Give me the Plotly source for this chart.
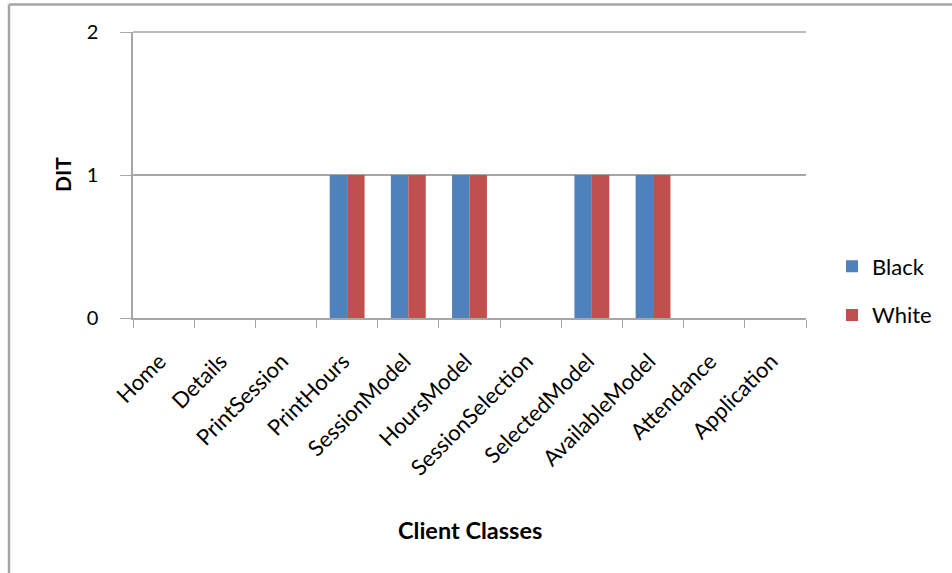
import plotly.graph_objects as go

categories = ["Home", "Details", "PrintSession", "PrintHours", "SessionModel", "HoursModel",
              "SessionSelection", "SelectedModel", "AvailableModel", "Attendance", "Application"]
black_vals = [0, 0, 0, 1, 1, 1, 0, 1, 1, 0, 0]
white_vals = [0, 0, 0, 1, 1, 1, 0, 1, 1, 0, 0]
y_ticks = [0, 1, 2]

W, H = 952, 573
L, R, T, B = 133, 806, 32, 318
pw, ph = R - L, B - T

def px_x(x):
    return (x - L) / pw

def px_y(y):
    return (B - y) / ph

FONT = "Lato"
grid = "#a6a6a6"

fig = go.Figure()
fig.add_trace(go.Bar(x=categories, y=black_vals, name="Black", marker_color="#4F81BD",
                     marker_line_width=0, legendgroup="a"))
fig.add_trace(go.Bar(x=categories, y=white_vals, name="White", marker_color="#C0504D",
                     marker_line_width=0, legendgroup="b"))

fig.update_layout(
    width=W, height=H, autosize=False,
    margin=dict(l=L, r=W - R, t=T, b=H - B, pad=0),
    paper_bgcolor="white", plot_bgcolor="white",
    barmode="group", bargap=0.43, bargroupgap=0,
    font=dict(family=FONT, size=20, color="#000"),
    showlegend=True,
    legend=dict(x=px_x(832), y=px_y(291), xanchor="left", yanchor="middle",
                font=dict(size=22), tracegroupgap=17, bgcolor="rgba(0,0,0,0)"),
    xaxis=dict(type="category", tickangle=-45, ticks="outside", ticklen=8, tickcolor=grid,
               tickson="boundaries", showline=True, linecolor=grid, linewidth=1.5,
               showgrid=False, tickfont=dict(size=22), ticklabelstandoff=20,
               ticklabelshift=-4, fixedrange=True),
    yaxis=dict(range=[0, 2], tickvals=y_ticks, ticks="outside", ticklen=11, tickcolor=grid,
               showline=True, linecolor=grid, linewidth=1.5, showgrid=True, gridcolor=grid,
               gridwidth=1.5, zeroline=False, tickfont=dict(size=20), ticklabelstandoff=18,
               fixedrange=True),
    shapes=[
        dict(type="line", xref="paper", yref="paper", x0=px_x(9), x1=px_x(W + 5),
             y0=px_y(4.5), y1=px_y(4.5), line=dict(color="#a6a6a6", width=2.5)),
        dict(type="line", xref="paper", yref="paper", x0=px_x(9), x1=px_x(9),
             y0=px_y(4.5), y1=px_y(H + 5), line=dict(color="#a6a6a6", width=2.5)),
        dict(type="line", xref="paper", yref="paper", x0=0, x1=1,
             y0=1, y1=1, line=dict(color=grid, width=1.5)),
    ],
    annotations=[
        dict(text="<b>Client Classes</b>", xref="paper", yref="paper", x=px_x(470), y=px_y(530),
             showarrow=False, font=dict(size=23.5), xanchor="center", yanchor="middle"),
        dict(text="<b>DIT</b>", xref="paper", yref="paper", x=px_x(62), y=px_y(175),
             showarrow=False, font=dict(size=21), textangle=-90, xanchor="center", yanchor="middle"),
    ],
)

fig.write_html("out.html", config={"displayModeBar": False},
               post_script="document.body.style.margin='0';")
